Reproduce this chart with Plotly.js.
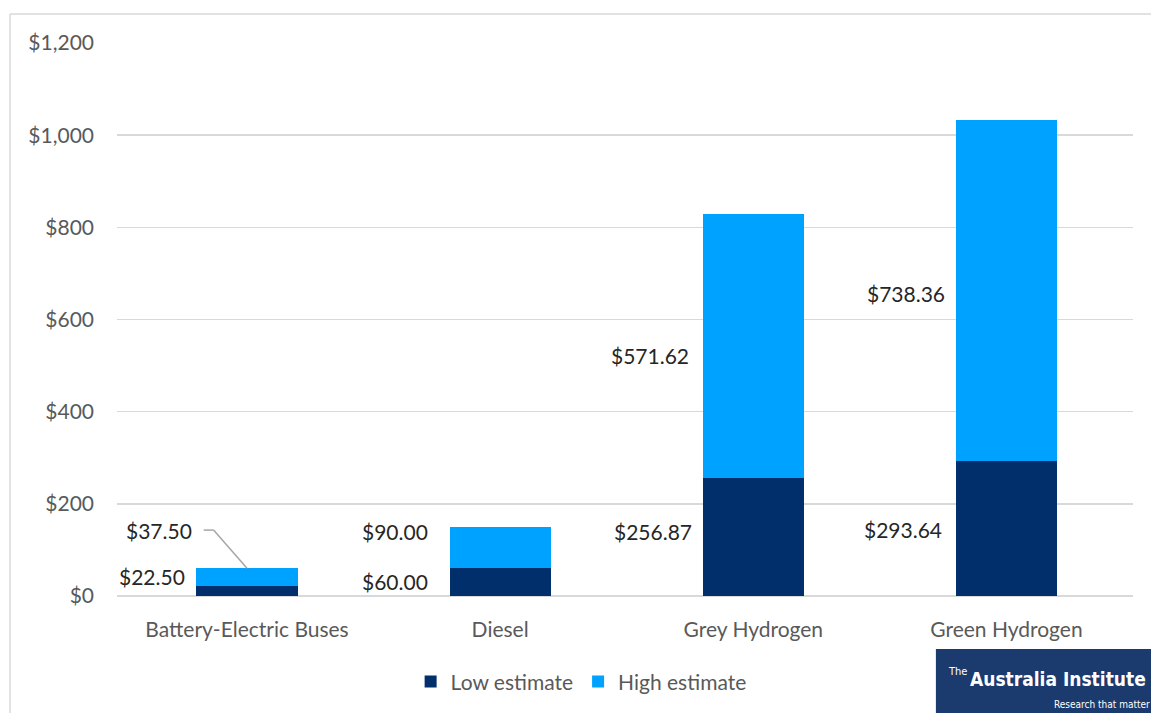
<!DOCTYPE html>
<html>
<head>
<meta charset="utf-8">
<script src="https://cdn.plot.ly/plotly-3.0.1.min.js"></script>
<style>html,body{margin:0;padding:0;background:#fff;}#chart{width:1151px;height:713px;}</style>
</head>
<body>
<div id="chart"></div>
<script>
// ---- data ----
var categories = ["Battery-Electric Buses", "Diesel", "Grey Hydrogen", "Green Hydrogen"];
var lowEstimate = [22.50, 60.00, 256.87, 293.64];
var highEstimate = [37.50, 90.00, 571.62, 738.36];
var lowLabels = ["$22.50", "$60.00", "$256.87", "$293.64"];
var highLabels = ["$37.50", "$90.00", "$571.62", "$738.36"];
var yTickVals = [0, 200, 400, 600, 800, 1000, 1200];
var yTickText = ["$0", "$200", "$400", "$600", "$800", "$1,000", "$1,200"];

// ---- label placement (positions, not data) ----
var lowLabelY = [43, 32.5, 140.8, 145];
var highLabelY = [143, 140.8, 522, 656];
var lowLabelShift = [-60, -70, -59, -62];
var highLabelShift = [-53, -70, -62, -59];

var FONT = "Lato, 'Open Sans', sans-serif";
var LOGO_FONT = "'DejaVu Sans Condensed', 'Liberation Sans Narrow', Roboto, sans-serif";
var navy = "#002F6C", sky = "#00A2FF";

var traces = [
  {type: "bar", name: "Low estimate", x: categories, y: lowEstimate,
   marker: {color: navy}, width: 0.4, hoverinfo: "y"},
  {type: "bar", name: "High estimate", x: categories, y: highEstimate,
   marker: {color: sky}, width: 0.4, hoverinfo: "y"}
];

var annotations = [];
for (var i = 0; i < categories.length; i++) {
  annotations.push({x: i, y: lowLabelY[i], xref: "x", yref: "y", text: lowLabels[i],
    showarrow: false, xanchor: "right", yanchor: "middle", xshift: lowLabelShift[i],
    font: {family: FONT, size: 21, color: "#262626"}});
  annotations.push({x: i, y: highLabelY[i], xref: "x", yref: "y", text: highLabels[i],
    showarrow: false, xanchor: "right", yanchor: "middle", xshift: highLabelShift[i],
    font: {family: FONT, size: 21, color: "#262626"}});
}
// logo
annotations.push({xref: "paper", yref: "paper", x: 0.8155, y: -0.136, text: "The",
  showarrow: false, xanchor: "left", yanchor: "middle",
  font: {family: LOGO_FONT, size: 11, color: "#ffffff"}});
annotations.push({xref: "paper", yref: "paper", x: 1.0147, y: -0.150, text: "<b>Australia Institute</b>",
  showarrow: false, xanchor: "right", yanchor: "middle",
  font: {family: LOGO_FONT, size: 19, color: "#ffffff"}});
annotations.push({xref: "paper", yref: "paper", x: 1.0187, y: -0.2094, text: "Research that matter",
  showarrow: false, xanchor: "right", yanchor: "bottom",
  font: {family: LOGO_FONT, size: 10, color: "#ffffff"}});

var shapes = [
  // outer border (left and top)
  {type: "line", xref: "paper", yref: "paper", x0: -0.1053, x1: -0.1053, y0: 1.0523, y1: -0.25,
   line: {color: "#D9D9D9", width: 1.5}},
  {type: "line", xref: "paper", yref: "paper", x0: -0.1053, x1: 1.05, y0: 1.0523, y1: 1.0523,
   line: {color: "#D9D9D9", width: 1.5}},
  // leader line for $37.50
  {type: "line", xref: "x", yref: "y", x0: -0.171, x1: -0.132, y0: 143, y1: 143,
   line: {color: "#A6A6A6", width: 1.5}},
  {type: "line", xref: "x", yref: "y", x0: -0.132, x1: 0, y0: 143, y1: lowEstimate[0] + highEstimate[0],
   line: {color: "#A6A6A6", width: 1.5}},
  // logo box
  {type: "rect", xref: "paper", yref: "paper", x0: 0.806, x1: 1.02, y0: -0.0957, y1: -0.215,
   fillcolor: "#1B3A6E", line: {width: 0}, layer: "above"}
];

var layout = {
  width: 1151, height: 713,
  margin: {l: 117, r: 18, t: 43, b: 116},
  paper_bgcolor: "#ffffff", plot_bgcolor: "#ffffff",
  barmode: "stack",
  showlegend: true,
  legend: {orientation: "h", x: 0.289, xanchor: "left", y: -0.153, yanchor: "middle",
    font: {family: FONT, size: 21, color: "#595959"}, traceorder: "normal",
    itemwidth: 30, bgcolor: "rgba(0,0,0,0)"},
  xaxis: {type: "category", tickfont: {family: FONT, size: 21, color: "#595959"}, automargin: false,
    showgrid: false, showline: false, ticks: "", ticklabelstandoff: 19, fixedrange: true},
  yaxis: {range: [0, 1200], tickvals: yTickVals, ticktext: yTickText, automargin: false,
    tickfont: {family: FONT, size: 21, color: "#595959"},
    showgrid: true, gridcolor: "#D9D9D9", gridwidth: 1.5,
    zeroline: true, zerolinecolor: "#D9D9D9", zerolinewidth: 1.5,
    showline: false, ticks: "", ticklabelstandoff: 22, fixedrange: true},
  annotations: annotations,
  shapes: shapes
};

Plotly.newPlot("chart", traces, layout, {displayModeBar: false, staticPlot: true});
</script>
</body>
</html>
